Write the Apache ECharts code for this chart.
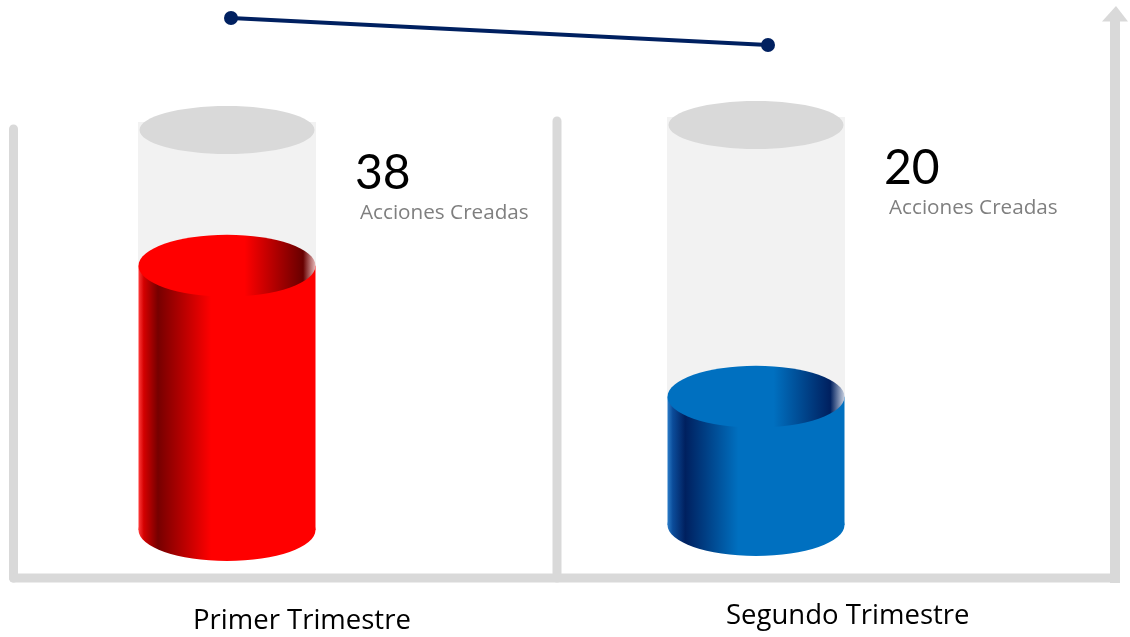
<!DOCTYPE html>
<html>
<head>
<meta charset="utf-8">
<script src="https://cdn.jsdelivr.net/npm/echarts@6/dist/echarts.min.js"></script>
<style>
  html, body { margin: 0; padding: 0; background: #ffffff; }
  #chart { width: 1130px; height: 637px; }
</style>
</head>
<body>
<div id="chart"></div>
<script>
// ---------- DATA ----------
const categories = ['Primer Trimestre', 'Segundo Trimestre'];
const values = [38, 20];
const valueCaption = 'Acciones Creadas';
const scaleMin = 3;    // hidden value scale: bottom of the tubes
const scaleMax = 56;   // hidden value scale: top (rim) of the tubes

// ---------- STYLE ----------
const NUM_FONT = 'Lato, "Open Sans", sans-serif';
const FONT = '"Open Sans", Lato, sans-serif';
const groupShift = [0, -5];
const labelDx = [-34, -30];
const palettes = [
  {
    side: [['0', '#ff3a3a'], ['0.03', '#d40000'], ['0.11', '#760000'], ['0.41', '#ff0000'], ['1', '#ff0000']],
    top:  [['0', '#ff0000'], ['0.6', '#ff0000'], ['0.93', '#680000'], ['1', '#e9b9b9']]
  },
  {
    side: [['0', '#2a7cc8'], ['0.03', '#0b4c9a'], ['0.1', '#00205f'], ['0.4', '#0070c0'], ['1', '#0070c0']],
    top:  [['0', '#0070c0'], ['0.6', '#0070c0'], ['0.92', '#00205f'], ['1', '#c9d1e1']]
  }
];
function grad(stops) {
  return new echarts.graphic.LinearGradient(0, 0, 1, 0,
    stops.map(s => ({ offset: parseFloat(s[0]), color: s[1] })));
}

const chart = echarts.init(document.getElementById('chart'), null, { renderer: 'canvas' });

const TUBE_W = 177;
const RIM_RY = 24;
const LIQ_RY = 31;

function renderTube(params, api) {
  const i = params.dataIndex;
  const v = api.value(1);
  const dy = groupShift[i] || 0;
  const topP = api.coord([api.value(0), v]);
  const baseP = api.coord([api.value(0), scaleMin]);
  const rimP = api.coord([api.value(0), scaleMax]);
  const cx = topP[0];
  const rx = TUBE_W / 2;
  const yTop = topP[1] + dy;
  const yBase = baseP[1] + dy;
  const yRim = rimP[1] + dy;
  const pal = palettes[i % palettes.length];

  return {
    type: 'group',
    children: [
      { type: 'rect', shape: { x: cx - rx - 0.5, y: yRim - 8, width: TUBE_W + 1, height: yTop - yRim + 8 },
        style: { fill: '#f2f2f2' } },
      { type: 'ellipse', shape: { cx: cx, cy: yRim, rx: rx - 1, ry: RIM_RY },
        style: { fill: '#d9d9d9' } },
      { type: 'rect', shape: { x: cx - rx, y: yTop, width: TUBE_W, height: yBase - yTop },
        style: { fill: grad(pal.side) } },
      { type: 'ellipse', shape: { cx: cx, cy: yBase, rx: rx, ry: LIQ_RY },
        style: { fill: grad(pal.side) } },
      { type: 'ellipse', shape: { cx: cx, cy: yTop, rx: rx, ry: LIQ_RY },
        style: { fill: grad(pal.top) } },
      { type: 'text', x: cx + 128, y: yRim + 44,
        style: { text: String(v), fontFamily: NUM_FONT, fontSize: 48, fill: '#000000',
                 align: 'left', verticalAlign: 'middle' } },
      { type: 'text', x: cx + 133, y: yRim + 83,
        style: { text: valueCaption, fontFamily: FONT, fontSize: 20.7, fill: '#7f7f7f',
                 align: 'left', verticalAlign: 'middle' } },
      { type: 'text', x: cx + (labelDx[i] || -32), y: yBase + 91,
        style: { text: categories[i], fontFamily: FONT, fontSize: 27.5, fill: '#000000',
                 align: 'left', verticalAlign: 'middle' } }
    ]
  };
}

const frameColor = '#d9d9d9';
const option = {
  backgroundColor: '#ffffff',
  animation: false,
  graphic: [
    { type: 'line', shape: { x1: 13.5, y1: 129, x2: 13.5, y2: 578 },
      style: { stroke: frameColor, lineWidth: 9, lineCap: 'round' }, z: 0 },
    { type: 'line', shape: { x1: 557, y1: 121, x2: 557, y2: 578 },
      style: { stroke: frameColor, lineWidth: 9, lineCap: 'round' }, z: 0 },
    { type: 'line', shape: { x1: 13.5, y1: 578, x2: 1115, y2: 578 },
      style: { stroke: frameColor, lineWidth: 9, lineCap: 'round' }, z: 0 },
    { type: 'rect', shape: { x: 1110, y: 20, width: 10, height: 563 },
      style: { fill: frameColor }, z: 0 },
    { type: 'polygon', shape: { points: [[1102, 21.5], [1128, 21.5], [1116, 6]] },
      style: { fill: frameColor }, z: 0 }
  ],
  grid: [
    { left: 227, right: 374, top: 130, bottom: 107 },
    { left: 231, right: 362, top: 18, height: 27 }
  ],
  xAxis: [
    { type: 'category', gridIndex: 0, data: categories, boundaryGap: false, show: false },
    { type: 'category', gridIndex: 1, data: categories, boundaryGap: false, show: false }
  ],
  yAxis: [
    { type: 'value', gridIndex: 0, min: scaleMin, max: scaleMax, show: false },
    { type: 'value', gridIndex: 1, min: Math.min(...values), max: Math.max(...values), show: false }
  ],
  series: [
    {
      type: 'custom',
      xAxisIndex: 0, yAxisIndex: 0,
      clip: false,
      renderItem: renderTube,
      data: values.map((v, i) => [i, v])
    },
    {
      type: 'line',
      xAxisIndex: 1, yAxisIndex: 1,
      data: values,
      symbol: 'circle',
      symbolSize: 14,
      lineStyle: { color: '#002060', width: 4 },
      itemStyle: { color: '#002060' },
      z: 5
    }
  ]
};
chart.setOption(option);
</script>
</body>
</html>
